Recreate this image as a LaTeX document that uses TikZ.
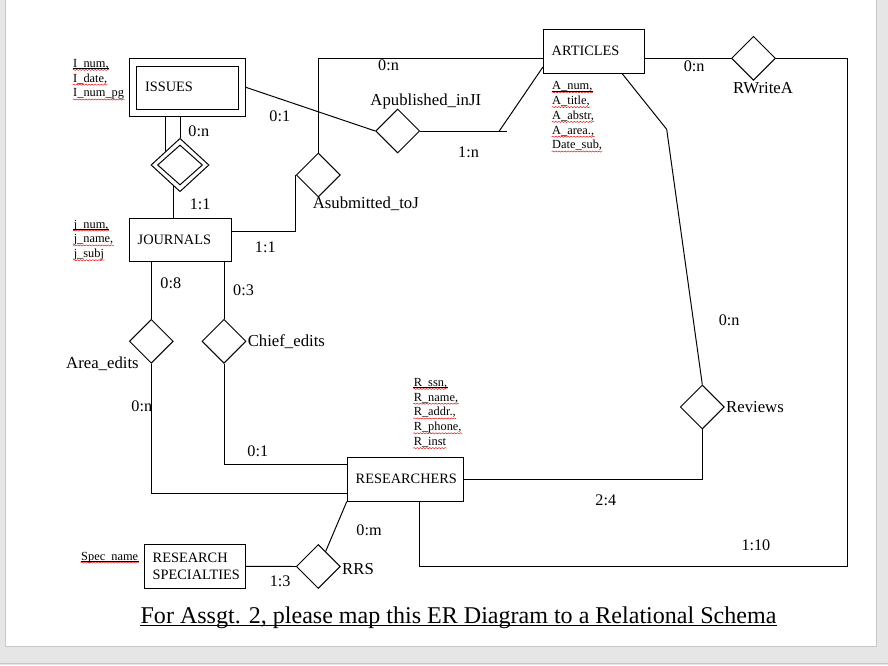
\documentclass[tikz,border=0pt]{standalone}
\usepackage{fontspec}
\setmainfont{Liberation Serif}
\usetikzlibrary{shapes.geometric, decorations.pathmorphing}
\definecolor{pagegrey}{HTML}{E6E6E6}
\definecolor{edgegrey}{HTML}{C8C8C8}
\definecolor{spellred}{HTML}{F01010}
\newlength{\unitpx}
\setlength{\unitpx}{0.025cm}
\tikzset{
  every picture/.style={line width=0.7pt},
  entity/.style={draw, line width=0.75pt, font=\fontsize{10.2}{11.9}\selectfont, align=left, inner xsep=8.4\unitpx, inner ysep=0pt, text width=#1, minimum height=44\unitpx},
  rel/.style={diamond, draw, inner sep=0pt, minimum width=44\unitpx, minimum height=44\unitpx},
  weakrel/.style={rel, minimum width=58\unitpx, minimum height=53.4\unitpx},
  rellabel/.style={font=\fontsize{11.9}{14}\selectfont, inner sep=0pt, anchor=west},
  card/.style={font=\fontsize{11.5}{14}\selectfont, inner sep=0pt, anchor=west},
  attr/.style={font=\fontsize{8.8}{10}\selectfont, inner sep=0pt, anchor=base west},
  spell/.style={draw=spellred, line width=0.35pt, decorate, decoration={snake, amplitude=0.4pt, segment length=2.2pt}},
  keyline/.style={line width=0.5pt},
}
% attribute column: prefix, x, first baseline, items
\newcommand{\attrlist}[4]{%
  \foreach \txt [count=\i from 0] in {#4}{
    \node[attr] (#1\i) at (#2,{#3+\i*14.8}) {\txt};
    \draw[spell] ([yshift=-2.6\unitpx]#1\i.base west) -- ([yshift=-2.6\unitpx]#1\i.base east);
  }
  \draw[keyline] ([yshift=-1.3\unitpx]#10.base west) -- ([yshift=-1.3\unitpx]#10.base east);
}

\begin{document}
\begin{tikzpicture}[x=0.025cm, y=-0.025cm]
  \useasboundingbox (0,0) rectangle (888,665);
  % page
  \fill[pagegrey] (0,0) rectangle (888,665);
  \draw[edgegrey, fill=white, line width=0.6pt] (5.7,-2) rectangle (876.7,646);
  \draw[edgegrey, line width=0.6pt] (0,663.3) -- (888,663.3);

  % entities
  \node[entity=84.3\unitpx, inner xsep=15.7\unitpx, minimum height=57.7\unitpx] (issues) at (187.2,87.2) {ISSUES};
  \draw[line width=0.75pt] ([xshift=8\unitpx,yshift=-8.4\unitpx]issues.north west) rectangle ([xshift=-6.7\unitpx,yshift=6.7\unitpx]issues.south east);
  \node[entity=84.2\unitpx] (articles) at (593.8,51.3) {ARTICLES};
  \node[entity=85.6\unitpx, minimum height=43.4\unitpx] (journals) at (180.5,240) {JOURNALS};
  \node[entity=99.2\unitpx, minimum height=43.7\unitpx] (researchers) at (405.3,479.2) {RESEARCHERS};
  \node[entity=84.6\unitpx] (specialties) at (195,566.3) {RESEARCH\\SPECIALTIES};

  % relationships
  \node[weakrel] (issuedin) at (180,165) {};
  \node[rel, minimum width=45\unitpx, minimum height=40\unitpx] (issuedinner) at (issuedin) {};
  \node[rel] (published) at (397.7,131) {};
  \node[rel] (submitted) at (318.3,175) {};
  \node[rel] (rwrite) at (753.5,58.3) {};
  \node[rel] (reviews) at (702.3,407) {};
  \node[rel] (area) at (151.3,341.3) {};
  \node[rel] (chief) at (224,341.3) {};
  \node[rel] (rrs) at (318.3,566.5) {};

  \node[rellabel] (publishedlbl) at (370,101.7) {Apublished\_inJI};
  \node[rellabel] (submittedlbl) at (312.3,203.3) {Asubmitted\_toJ};
  \node[rellabel] (rwritelbl) at (732.7,88.3) {RWriteA};
  \node[rellabel] (reviewslbl) at (725.7,407) {Reviews};
  \node[rellabel] (arealbl) at (65.7,363.3) {Area\_edits};
  \node[rellabel] (chieflbl) at (247.3,341.7) {Chief\_edits};
  \node[rellabel] (rrslbl) at (341.7,569.3) {RRS};

  % connectors
  \draw (issuedin.north) -- (issuedin.north |- issues.south);
  \draw (issuedin.north west) -- (issuedin.north west |- issues.south);
  \draw (issuedin.252) -- (issuedin.252 |- journals.north);
  \draw (issues.east) -- (published.west);
  \coordinate (pubturn) at (499.3,131);
  \draw (published.east) -- ([xshift=7.4\unitpx]pubturn);
  \draw (pubturn) -- ([yshift=6.6\unitpx]articles.south west);
  \draw ([yshift=8.3\unitpx]journals.east) -| (submitted.west);
  \draw (submitted.north) |- ([yshift=-7\unitpx]articles.west);
  \draw (rwrite.west) -- (rwrite.west -| articles.east);
  \coordinate (rwturn) at (847.3,566.3);
  \draw (rwrite.east) -| (rwturn) -| ([xshift=14\unitpx]researchers.south);
  \coordinate (revturn) at (666.7,129.3);
  \draw ([xshift=28.5\unitpx]articles.south) -- (revturn) -- (reviews.north);
  \draw (reviews.south) |- (researchers.east);
  \draw (area.north) -- (area.north |- journals.south);
  \draw (area.south) |- ([yshift=-14\unitpx]researchers.west);
  \draw (chief.north) -- (chief.north |- journals.south);
  \draw (chief.south) |- ([yshift=15\unitpx]researchers.west);
  \draw (researchers.south west) -- (rrs.64);
  \draw (specialties.east) -- (rrs.west);

  % cardinalities
  \node[card] (c1) at (188,131.7) {0:n};
  \node[card] (c2) at (189.3,204) {1:1};
  \node[card] (c3) at (269,116.7) {0:1};
  \node[card] (c4) at (457.7,152.7) {1:n};
  \node[card] (c5) at (377.7,65.7) {0:n};
  \node[card] (c6) at (254.5,247.5) {1:1};
  \node[card] (c7) at (683.3,66) {0:n};
  \node[card] (c8) at (718.3,320) {0:n};
  \node[card] (c9) at (595,500.7) {2:4};
  \node[card] (c10) at (741,545) {1:10};
  \node[card] (c11) at (160,283.3) {0:8};
  \node[card] (c12) at (232.7,290.7) {0:3};
  \node[card] (c13) at (131,406.7) {0:n};
  \node[card] (c14) at (247,451) {0:1};
  \node[card] (c15) at (356,530) {0:m};
  \node[card] (c16) at (269.3,581) {1:3};

  % attributes
  \attrlist{iss}{72.7}{67.3}{{I\_num,},{I\_date,},{I\_num\_pg}}
  \attrlist{jrn}{73.3}{228}{{j\_num,},{j\_name,},{j\_subj}}
  \attrlist{art}{551.7}{89.7}{{A\_num,},{A\_title,},{A\_abstr,},{A\_area.,},{Date\_sub,}}
  \attrlist{res}{413.3}{386.3}{{R\_ssn,},{R\_name,},{R\_addr.,},{R\_phone,},{R\_inst}}
  \attrlist{spc}{80.7}{560}{{Spec\_name}}

  % caption
  \node[font=\fontsize{17.1}{20}\selectfont, inner sep=0pt, anchor=base] (title) at (458.5,623.3) {For Assgt. 2, please map this ER Diagram to a Relational Schema};
  \draw[line width=0.8pt] ([yshift=-2.6\unitpx]title.base west) -- ([yshift=-2.6\unitpx]title.base east);
\end{tikzpicture}
\end{document}
